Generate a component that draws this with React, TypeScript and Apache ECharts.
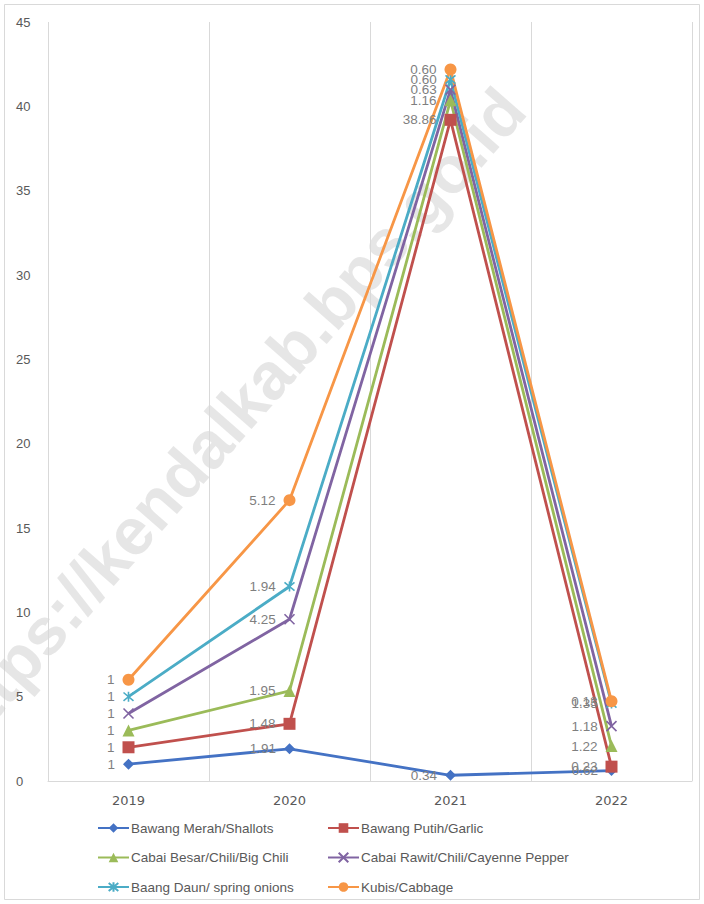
import React, { useEffect, useRef } from "react";
import * as echarts from "echarts";

const years = ["2019", "2020", "2021", "2022"];
const seriesNames = [
  "Bawang Merah/Shallots",
  "Bawang Putih/Garlic",
  "Cabai Besar/Chili/Big Chili",
  "Cabai Rawit/Chili/Cayenne Pepper",
  "Baang Daun/ spring onions",
  "Kubis/Cabbage",
];
const shallots = [1, 1.91, 0.34, 0.62];
const garlic = [1, 1.48, 38.86, 0.23];
const bigChili = [1, 1.95, 1.16, 1.22];
const cayenne = [1, 4.25, 0.63, 1.18];
const springOnions = [1, 1.94, 0.6, 1.35];
const cabbage = [1, 5.12, 0.6, 0.13];
const yTicks = { min: 0, max: 45, interval: 5 };

const colors = ["#4472C4", "#C0504D", "#9BBB59", "#8064A2", "#4BACC6", "#F79646"];
const symbols = [
  "diamond",
  "rect",
  "triangle",
  "path://M0,0L10,10M10,0L0,10",
  "path://M0,0L10,10M10,0L0,10M5,-1L5,11",
  "circle",
];
const symbolSizes = [11, 12, 12, 10, 10, 12];

export default function App() {
  const ref = useRef<HTMLDivElement>(null);
  useEffect(() => {
    if (!ref.current) return;
    const chart = echarts.init(ref.current, null, { renderer: "svg" });
    const data = [shallots, garlic, bigChili, cayenne, springOnions, cabbage];
    const isPath = (s: string) => s.startsWith("path://");
    const legendBase = {
      orient: "vertical",
      top: 821,
      padding: 0,
      itemWidth: 31,
      itemHeight: 12,
      itemGap: 15.5,
      textStyle: { color: "#595959", fontSize: 13.5, padding: [0, 0, 0, -3] },
    };
    chart.setOption({
      animation: false,
      backgroundColor: "#ffffff",
      textStyle: { fontFamily: "Liberation Sans, Arial, sans-serif" },
      graphic: [
        {
          type: "rect",
          z: -10,
          shape: { x: 4.5, y: 4.5, width: 695, height: 895 },
          style: { fill: "none", stroke: "#d9d9d9", lineWidth: 1 },
          silent: true,
        },
        {
          type: "text",
          z: -5,
          x: 512,
          y: 98,
          rotation: 0.85,
          silent: true,
          style: {
            text: "https://kendalkab.bps.go.id",
            font: "bold 66px Liberation Sans, Arial, sans-serif",
            fill: "rgba(200,200,200,0.45)",
            textAlign: "right",
            textVerticalAlign: "middle",
          },
        },
      ],
      grid: { left: 48, right: 12, top: 22, bottom: 123, containLabel: false },
      xAxis: {
        type: "category",
        data: years,
        boundaryGap: true,
        axisLine: { show: true, lineStyle: { color: "#d9d9d9", width: 1 } },
        axisTick: { show: false },
        splitLine: { show: true, lineStyle: { color: "#d9d9d9", width: 1 } },
        axisLabel: {
          color: "#595959",
          fontSize: 13,
          margin: 13,
          fontFamily: "DejaVu Sans",
        },
      },
      yAxis: {
        type: "value",
        min: yTicks.min,
        max: yTicks.max,
        interval: yTicks.interval,
        axisLine: { show: false },
        axisTick: { show: false },
        splitLine: { show: false },
        axisLabel: { color: "#595959", fontSize: 13, align: "left", margin: 32 },
      },
      legend: [
        { ...legendBase, left: 97, data: [seriesNames[0], seriesNames[2], seriesNames[4]] },
        { ...legendBase, left: 327, data: [seriesNames[1], seriesNames[3], seriesNames[5]] },
      ],
      series: seriesNames.map((name, i) => ({
        name,
        type: "line",
        stack: "total",
        data: data[i],
        symbol: symbols[i],
        symbolSize: symbolSizes[i],
        showAllSymbol: true,
        lineStyle: { color: colors[i], width: 2.8 },
        itemStyle: isPath(symbols[i])
          ? { color: colors[i], borderColor: colors[i], borderWidth: 1.6 }
          : { color: colors[i] },
        label: {
          show: true,
          position: "left",
          distance: 8,
          color: "#7f7f7f",
          fontSize: 13.5,
          formatter: (p: any) =>
            p.dataIndex === 0 ? String(p.value) : Number(p.value).toFixed(2),
        },
        emphasis: { disabled: true },
      })),
    });
    return () => chart.dispose();
  }, []);
  return (
    <div
      ref={ref}
      style={{ position: "absolute", left: 0, top: 0, width: 704, height: 904 }}
    />
  );
}
